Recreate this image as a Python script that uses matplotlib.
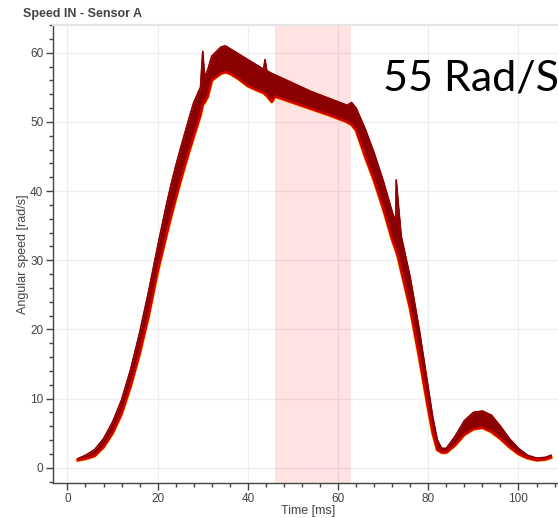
import matplotlib
matplotlib.use("Agg")
import matplotlib.pyplot as plt
from matplotlib.ticker import MultipleLocator

# time axis of the envelope [ms]
time_ms = [2.3, 4, 6, 8, 10, 12, 14, 16, 18, 20, 22, 23, 24, 25, 26, 27, 28, 29.5, 30.0, 30.4, 31.1,
           32, 34, 35, 36, 38, 40, 42, 43.5, 43.8, 44.2, 45.3, 46, 50, 54, 58, 62, 63, 64,
           66, 68, 70, 72, 72.8, 72.9, 73.3, 74, 76, 78, 80, 81, 82, 83, 84, 86, 88, 90,
           92, 94, 96, 98, 100, 102, 104, 106, 107.2]

# top edge of the bundle of runs [rad/s]
speed_upper = [1.3, 1.8, 2.6, 4.2, 6.6, 9.8, 14.2, 19.5, 25.5, 32.0, 38.2, 41.0, 43.6, 46.0, 48.3, 50.6, 52.8,
               55.0, 60.2, 56.5, 57.5,
               59.5, 60.8, 61.0, 60.6, 59.8, 59.0, 58.2, 57.6, 59.0, 57.4, 57.0, 56.8, 55.6, 54.4, 53.4, 52.4, 52.8, 52.0,
               49.0, 45.5, 41.5, 37.0, 35.5, 41.6, 38.5, 33.5, 27.5, 20.0, 11.5, 7.3, 4.0, 2.8, 2.8, 4.6, 6.8, 8.0,
               8.2, 7.6, 6.0, 4.2, 2.8, 1.8, 1.4, 1.5, 1.8]

# bottom edge of the bundle of runs [rad/s]
speed_lower = [1.1, 1.3, 1.7, 3.0, 5.0, 7.8, 11.8, 16.5, 22.0, 28.4, 33.8, 36.4, 38.9, 41.3, 43.6, 45.8, 47.9,
               51.0, 52.5, 52.8, 53.7,
               56.0, 57.0, 57.2, 57.0, 56.2, 55.2, 54.6, 54.2, 54.0, 53.8, 52.9, 53.7, 52.8, 51.9, 51.0, 50.0, 49.6, 48.8,
               45.0, 41.5, 37.5, 33.0, 31.5, 31.3, 30.5, 28.5, 23.0, 16.0, 8.5, 5.0, 2.6, 2.2, 2.2, 3.3, 4.8, 5.6,
               5.8, 5.2, 4.2, 3.0, 2.0, 1.4, 1.1, 1.2, 1.5]

window_ms = [46.0, 62.8]

x_ticks = [0, 20, 40, 60, 80, 100]
y_ticks = [0, 10, 20, 30, 40, 50, 60]

plt.rcParams['font.family'] = ['Liberation Sans', 'DejaVu Sans']

fig = plt.figure(figsize=(5.58, 5.18), dpi=100)
ax = fig.add_axes([0.095, 0.0676, 0.915, 0.884])

ax.axvspan(window_ms[0], window_ms[1], color='red', alpha=0.11, lw=0, zorder=1)

ax.plot(time_ms, speed_lower, color='#ffb000', lw=2.6, zorder=2)
ax.plot(time_ms, speed_upper, color='#a00000', lw=1.2, zorder=2)
ax.fill_between(time_ms, speed_lower, speed_upper, color='#8b0000', lw=0, zorder=3)
ax.plot(time_ms, speed_lower, color='#d40000', lw=1.8, zorder=4)
ax.plot(time_ms, speed_upper, color='#8b0000', lw=0.8, zorder=4)

ax.set_xlim(-3.2, 110)
ax.set_ylim(-2.2, 64)
ax.set_xticks(x_ticks)
ax.set_yticks(y_ticks)
ax.xaxis.set_minor_locator(MultipleLocator(4))
ax.yaxis.set_minor_locator(MultipleLocator(2))

ax.grid(True, which='major', color='#eeeeee', lw=0.9, zorder=0)
ax.set_axisbelow(True)

for side in ['left', 'bottom']:
    ax.spines[side].set_color('#444444')
    ax.spines[side].set_linewidth(1.0)
ax.spines['top'].set_color('#e4e4e4')
ax.spines['top'].set_linewidth(1.5)
ax.spines['right'].set_visible(False)

ax.tick_params(which='major', direction='out', length=5, width=1, color='#444444',
               labelsize=8.5, labelcolor='#444444', pad=2)
ax.tick_params(which='minor', direction='out', length=3, width=1, color='#444444')

ax.set_xlabel('Time [ms]', fontsize=9, color='#444444', labelpad=0)
ax.set_ylabel('Angular speed [rad/s]', fontsize=9, color='#444444', labelpad=1)

fig.text(0.041, 0.968, 'Speed IN - Sensor A', fontsize=9, fontweight='bold', color='#444444')
fig.text(0.686, 0.826, '55 Rad/S', fontsize=31, family=['Lato', 'DejaVu Sans'],
         color='black', va='baseline')

fig.savefig('out.png', dpi=100)
